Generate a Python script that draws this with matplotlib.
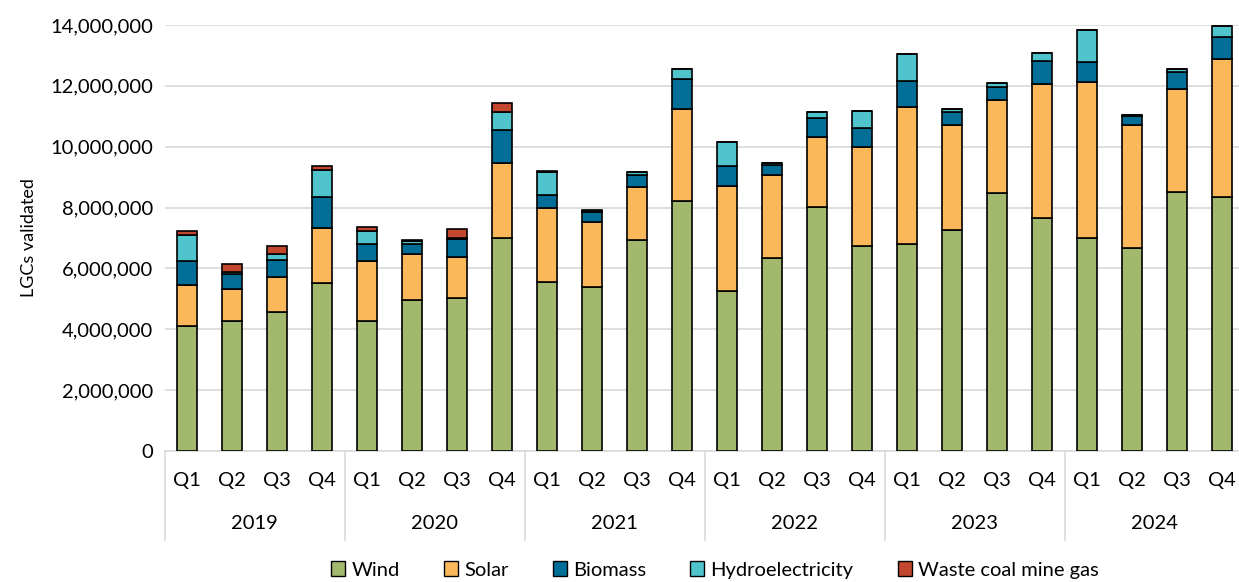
import matplotlib.pyplot as plt
import matplotlib.ticker as mticker
from matplotlib.patches import Patch
import numpy as np

plt.rcParams['font.family'] = ['Lato', 'DejaVu Sans']

years = ['2019', '2020', '2021', '2022', '2023', '2024']
quarters = ['Q1', 'Q2', 'Q3', 'Q4']

# LGCs validated per quarter, millions
wind = [4.12, 4.28, 4.58, 5.51, 4.28, 4.96, 5.02, 7.01,
        5.55, 5.40, 6.95, 8.22, 5.25, 6.35, 8.03, 6.73,
        6.79, 7.25, 8.47, 7.65, 7.01, 6.68, 8.52, 8.36]
solar = [1.34, 1.06, 1.13, 1.81, 1.96, 1.51, 1.35, 2.45,
         2.43, 2.13, 1.72, 3.02, 3.47, 2.71, 2.30, 3.27,
         4.50, 3.47, 3.07, 4.41, 5.11, 4.02, 3.38, 4.52]
biomass = [0.79, 0.48, 0.57, 1.02, 0.55, 0.32, 0.59, 1.10,
           0.42, 0.33, 0.41, 1.00, 0.63, 0.34, 0.62, 0.61,
           0.87, 0.42, 0.42, 0.76, 0.67, 0.30, 0.54, 0.74]
hydro = [0.84, 0.05, 0.18, 0.88, 0.44, 0.10, 0.05, 0.57,
         0.77, 0.03, 0.10, 0.31, 0.80, 0.08, 0.20, 0.58,
         0.88, 0.11, 0.14, 0.27, 1.04, 0.03, 0.11, 0.36]
waste = [0.15, 0.28, 0.28, 0.13, 0.14, 0.06, 0.27, 0.30,
         0.02, 0.03, 0.00, 0.00, 0.00, 0.00, 0.00, 0.00,
         0.00, 0.00, 0.00, 0.00, 0.00, 0.02, 0.00, 0.00]

series = [('Wind', wind, '#A2B86D'),
          ('Solar', solar, '#FBB85A'),
          ('Biomass', biomass, '#006E96'),
          ('Hydroelectricity', hydro, '#50C4CC'),
          ('Waste coal mine gas', waste, '#C3472F')]

fig = plt.figure(figsize=(12.39, 5.82), dpi=100)
ax = fig.add_axes([164.5 / 1239, 131 / 582, 1080 / 1239, 426 / 582])

x = np.arange(len(wind))
bottom = np.zeros(len(wind))
for name, vals, col in series:
    v = np.array(vals) * 1e6
    ax.bar(x, v, 0.43, bottom=bottom, color=col, edgecolor='black', linewidth=1.2, label=name, zorder=3)
    bottom += v

ax.set_xlim(-0.5, len(wind) - 0.5)
ax.set_ylim(0, 14e6)
ax.set_yticks(np.arange(0, 14e6 + 1, 2e6))
ax.yaxis.set_major_formatter(mticker.FuncFormatter(lambda v, p: f'{v:,.0f}'))
ax.grid(True, axis='y', color='#d9d9d9', linewidth=1.2, zorder=0)
ax.set_axisbelow(True)
for s in ['top', 'right', 'left']:
    ax.spines[s].set_visible(False)
ax.spines['bottom'].set_color('#d9d9d9')
ax.spines['bottom'].set_linewidth(1.2)
ax.tick_params(axis='y', length=0, labelsize=14.5, pad=8)
ax.set_ylabel('LGCs validated', fontsize=13, labelpad=10)

# two-level category axis
ax.set_xticks([])
trans = ax.get_xaxis_transform()
for i in range(len(wind)):
    ax.text(i, -0.07, quarters[i % 4], transform=trans, ha='center', va='center', fontsize=14.5)
for j, yr in enumerate(years):
    ax.text(4 * j + 1.5, -0.171, yr, transform=trans, ha='center', va='center', fontsize=14.5)
for j in range(len(years) + 1):
    ax.plot([4 * j - 0.5, 4 * j - 0.5], [0, -0.209], transform=trans, color='#d9d9d9',
            linewidth=1.2, clip_on=False)

handles = [Patch(facecolor=c, edgecolor='black', linewidth=1, label=n) for n, _, c in series]
fig.legend(handles=handles, loc='center', bbox_to_anchor=(715 / 1239, 12 / 582), ncol=5,
           frameon=False, fontsize=14.5, handlelength=0.7, handleheight=0.7,
           handletextpad=0.3, columnspacing=2.2)

fig.savefig('out.png', dpi=100)
